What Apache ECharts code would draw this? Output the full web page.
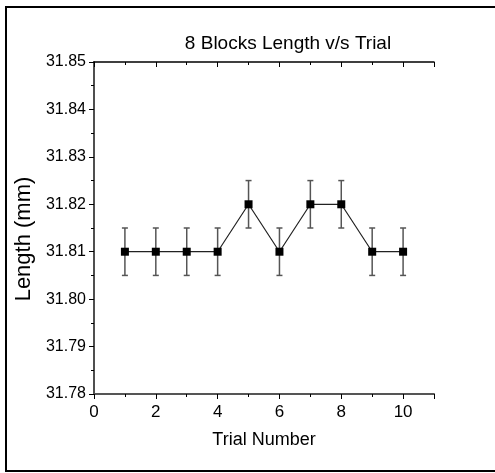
<!DOCTYPE html>
<html>
<head>
<meta charset="utf-8">
<script src="https://cdn.jsdelivr.net/npm/echarts@6/dist/echarts.min.js"></script>
<style>
html,body{margin:0;padding:0;background:#fff;}
#c{width:495px;height:473px;}
</style>
</head>
<body>
<div id="c"></div>
<script>
var trials = [1, 2, 3, 4, 5, 6, 7, 8, 9, 10];
var lengths = [31.81, 31.81, 31.81, 31.81, 31.82, 31.81, 31.82, 31.82, 31.81, 31.81];
var errors = [0.005, 0.005, 0.005, 0.005, 0.005, 0.005, 0.005, 0.005, 0.005, 0.005];
var xTicks = [0, 2, 4, 6, 8, 10];
var titleText = '8 Blocks Length v/s Trial';

var font = 'Liberation Sans, Arial, sans-serif';
var chart = echarts.init(document.getElementById('c'), null, {renderer: 'canvas'});

var pts = trials.map(function (t, i) { return [t, lengths[i]]; });
var errData = trials.map(function (t, i) { return [t, lengths[i] - errors[i], lengths[i] + errors[i]]; });

chart.setOption({
  animation: false,
  title: {
    text: titleText,
    left: 283,
    textAlign: 'center',
    top: 29,
    textStyle: {fontFamily: font, fontSize: 19, fontWeight: 'normal', color: '#000'}
  },
  grid: {left: 94, right: 61, top: 62, bottom: 79, containLabel: false},
  graphic: [{
    type: 'rect',
    shape: {x: 6, y: 7, width: 520, height: 464},
    style: {fill: 'none', stroke: '#000', lineWidth: 2},
    silent: true, z: 100
  }],
  xAxis: [{
    type: 'value', min: 0, max: 11, interval: 2,
    name: 'Trial Number', nameLocation: 'middle', nameGap: 37,
    nameTextStyle: {fontFamily: font, fontSize: 18, color: '#000'},
    axisLine: {show: true, lineStyle: {color: '#555', width: 2}},
    axisTick: {show: true, length: 5, lineStyle: {color: '#000'}},
    minorTick: {show: true, splitNumber: 2, length: 3, lineStyle: {color: '#000'}},
    axisLabel: {fontFamily: font, fontSize: 17, color: '#000', margin: 10,
      formatter: function (v) { return xTicks.indexOf(v) >= 0 ? String(v) : ''; }},
    splitLine: {show: false}
  }, {
    type: 'value', min: 0, max: 11, interval: 2, position: 'top',
    axisLine: {show: true, lineStyle: {color: '#000', width: 1.5}},
    axisTick: {show: true, inside: true, length: 5, lineStyle: {color: '#000'}},
    minorTick: {show: true, splitNumber: 2, length: 3, lineStyle: {color: '#000'}},
    axisLabel: {show: false},
    splitLine: {show: false}
  }],
  yAxis: [{
    type: 'value', min: 31.78, max: 31.85, interval: 0.01,
    name: 'Length (mm)', nameLocation: 'middle', nameGap: 56,
    nameTextStyle: {fontFamily: font, fontSize: 22, color: '#000', padding: [0, 22, 0, 0]},
    axisLine: {show: true, lineStyle: {color: '#000', width: 1.5}},
    axisTick: {show: true, length: 5, lineStyle: {color: '#000'}},
    minorTick: {show: true, splitNumber: 2, length: 3, lineStyle: {color: '#000'}},
    axisLabel: {fontFamily: font, fontSize: 16, color: '#000', margin: 8,
      formatter: function (v) { return v.toFixed(2); }},
    splitLine: {show: false}
  }, {
    type: 'value', min: 31.78, max: 31.85, interval: 0.01, position: 'right',
    axisLine: {show: true, lineStyle: {color: '#555', width: 1.5}},
    axisTick: {show: true, inside: true, length: 5, lineStyle: {color: '#000'}},
    minorTick: {show: true, splitNumber: 2, length: 3, lineStyle: {color: '#000'}},
    axisLabel: {show: false},
    splitLine: {show: false}
  }],
  series: [{
    type: 'custom',
    name: 'err',
    data: errData,
    z: 1,
    renderItem: function (params, api) {
      var x = api.value(0);
      var lo = api.coord([x, api.value(1)]);
      var hi = api.coord([x, api.value(2)]);
      var w = 3;
      var st = {stroke: '#555', lineWidth: 1.5};
      return {
        type: 'group',
        children: [
          {type: 'line', shape: {x1: lo[0], y1: lo[1], x2: hi[0], y2: hi[1]}, style: st},
          {type: 'line', shape: {x1: lo[0] - w, y1: lo[1], x2: lo[0] + w, y2: lo[1]}, style: st},
          {type: 'line', shape: {x1: hi[0] - w, y1: hi[1], x2: hi[0] + w, y2: hi[1]}, style: st}
        ]
      };
    }
  }, {
    type: 'line',
    data: pts,
    z: 2,
    symbol: 'rect',
    symbolSize: 8,
    itemStyle: {color: '#000'},
    lineStyle: {color: '#222', width: 1.2}
  }]
});
</script>
</body>
</html>
